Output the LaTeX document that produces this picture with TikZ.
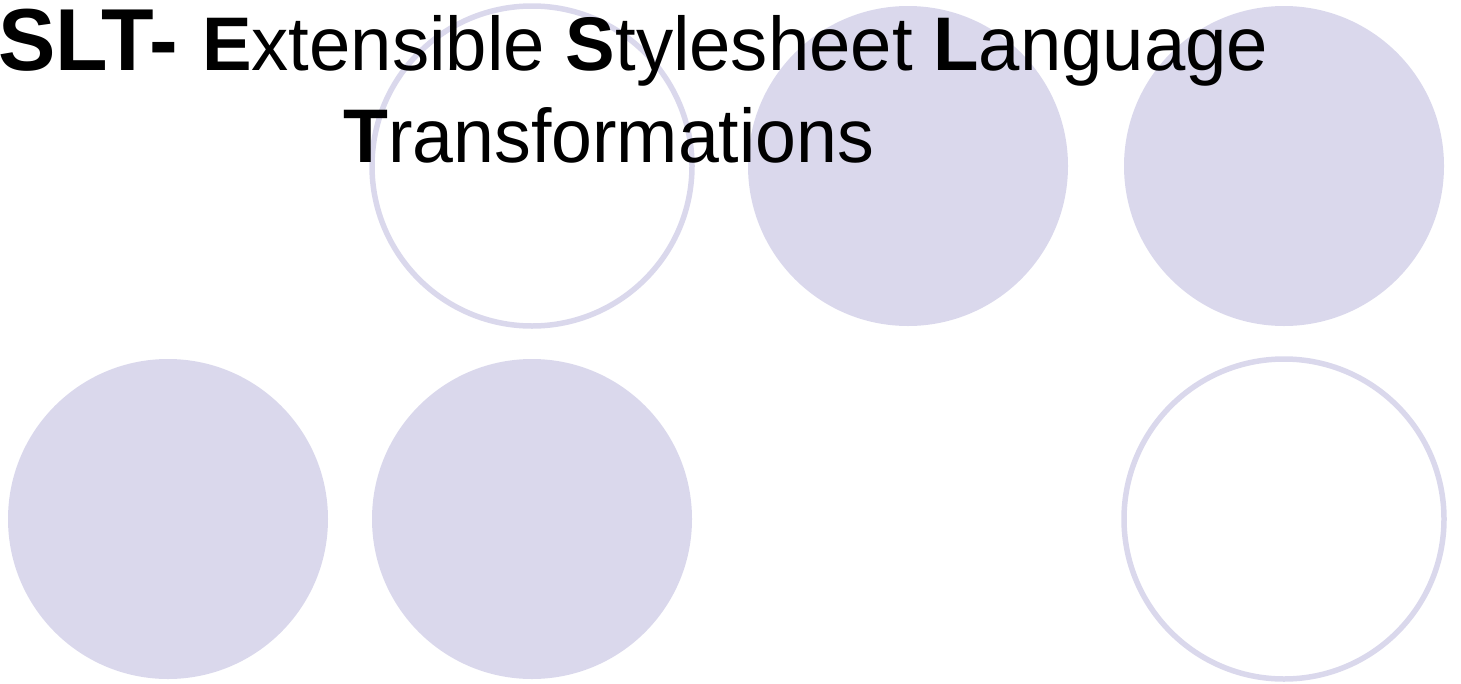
\documentclass[tikz,border=0pt]{standalone}
\usepackage{graphicx}
\usepackage{fontspec}
\setmainfont{Liberation Sans}
\definecolor{lilac}{RGB}{218,216,236}
\tikzset{
    dot/.style={circle, fill=lilac, inner sep=0pt, minimum size=320pt},
    ring/.style={circle, draw=lilac, line width=5.5pt, inner sep=0pt, minimum size=320pt},
    headline/.style={inner sep=0pt, font=\fontsize{76}{76}\selectfont}
}
\begin{document}
\begin{tikzpicture}[x=1pt,y=-1pt]
        \useasboundingbox (0,0) rectangle (1461,683);
        % top row
        \node[ring] (1) at (532,166) {};
        \node[dot] (2) at (908,166) {};
        \node[dot] (3) at (1284,166) {};
        % bottom row
        \node[dot] (4) at (168,519) {};
        \node[dot] (5) at (532,519) {};
        \node[ring] (6) at (1284,519) {};

        % title
        \node[headline, anchor=base west] (t1) at (-2,70) {\scalebox{0.978}[1]{{\fontsize{88}{88}\selectfont\bfseries SLT- }\textbf{E}xtensible \textbf{S}tylesheet \textbf{L}anguage}};
        \node[headline, anchor=base west] (t2) at (343,162) {\scalebox{0.967}[1]{\textbf{T}ransformations}};
    \end{tikzpicture}
\end{document}
